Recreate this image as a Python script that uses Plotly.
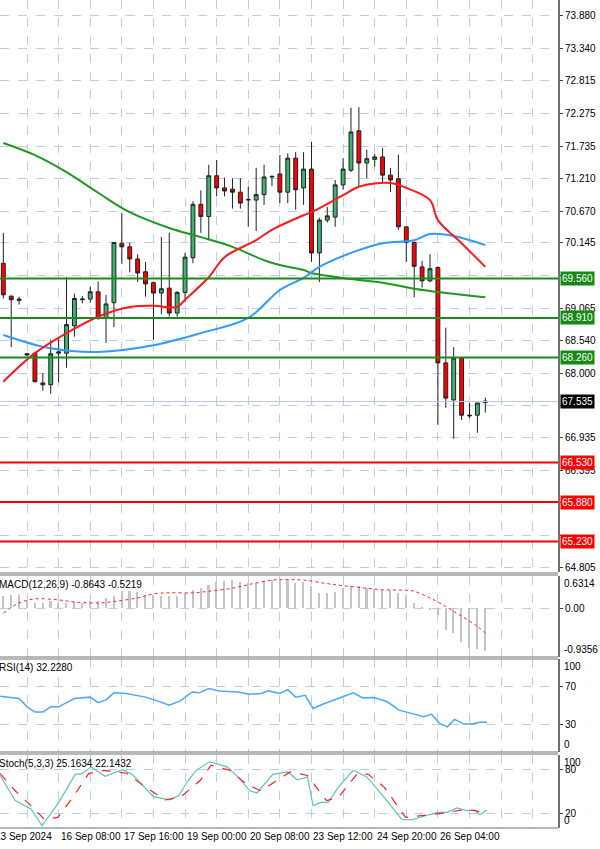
import plotly.graph_objects as go
from plotly.subplots import make_subplots

# --- price candles (4h bars, index 0..61) ---
opens = [69.81, 69.27, 69.22, 68.30, 68.33, 67.84, 67.81, 68.33, 68.33, 68.78, 69.21, 69.22, 69.34, 68.90,
         69.16, 70.14, 70.08, 69.88, 69.67, 69.49, 69.32, 69.40, 68.99, 69.33, 69.90, 70.78, 70.58, 71.25,
         71.05, 71.03, 70.98, 70.85, 70.85, 70.94, 71.23, 71.28, 70.98, 71.54, 71.05, 71.36, 69.98, 70.52,
         70.57, 71.10, 71.34, 71.99, 71.46, 71.52, 71.56, 71.26, 71.20, 70.41, 70.15, 69.75, 69.52, 69.74,
         68.17, 67.56, 68.25, 67.31, 67.31, 67.52]
highs = [70.31, 69.27, 69.26, 68.32, 68.35, 68.00, 68.55, 68.58, 69.58, 69.31, 69.27, 69.43, 69.51, 69.29,
         70.15, 70.64, 70.15, 69.96, 69.83, 69.51, 70.24, 70.31, 69.35, 69.98, 70.83, 71.01, 71.43, 71.51,
         71.22, 71.21, 71.21, 71.07, 71.38, 71.43, 71.25, 71.59, 71.62, 71.64, 71.64, 71.81, 70.56, 70.74,
         71.18, 71.54, 72.37, 72.38, 71.68, 71.61, 71.71, 71.38, 71.60, 70.41, 70.17, 69.85, 69.96, 69.76,
         68.75, 68.43, 68.27, 67.51, 67.51, 67.60]
lows = [69.23, 68.43, 69.13, 68.28, 67.85, 67.71, 67.66, 67.85, 68.09, 68.60, 69.15, 69.16, 68.88, 68.50,
        68.76, 69.80, 69.66, 69.50, 69.26, 68.55, 68.97, 68.93, 68.93, 69.17, 69.81, 70.31, 70.19, 70.91,
        70.91, 70.71, 70.71, 70.41, 70.34, 70.77, 71.08, 70.80, 70.80, 70.69, 70.77, 69.83, 69.50, 70.48,
        70.41, 71.02, 71.31, 71.07, 71.21, 71.40, 71.13, 70.98, 70.36, 69.83, 69.25, 69.41, 69.50, 67.15,
        67.43, 66.92, 67.23, 67.26, 67.02, 67.35]
closes = [69.29, 69.21, 69.20, 68.32, 67.86, 67.81, 68.32, 68.35, 68.80, 69.23, 69.22, 69.34, 68.90, 69.14,
          70.15, 70.08, 69.88, 69.65, 69.47, 69.32, 69.39, 68.99, 69.33, 69.91, 70.78, 70.58, 71.25, 71.05,
          71.00, 70.98, 70.80, 70.86, 70.94, 71.23, 71.24, 70.98, 71.54, 71.02, 71.36, 69.98, 70.52, 70.59,
          71.10, 71.36, 71.97, 71.46, 71.53, 71.56, 71.26, 71.18, 70.41, 70.15, 69.76, 69.52, 69.72, 68.17,
          67.59, 68.25, 67.31, 67.30, 67.51, 67.54]

# moving averages (bar index, price)
ma_fast_x = [0, 4, 8, 12, 16, 19, 22, 23, 26, 28, 32, 34, 38, 39, 43, 45, 49, 51, 54, 55, 58, 61]
ma_fast_y = [67.86, 68.33, 68.66, 68.93, 69.09, 69.11, 69.09, 69.21, 69.58, 69.91, 70.19, 70.36, 70.60,
             70.65, 70.93, 71.07, 71.13, 71.05, 70.85, 70.52, 70.14, 69.75]
ma_mid_x = [0, 6, 12, 19, 25, 31, 35, 38, 40, 44, 48, 52, 54, 57, 61]
ma_mid_y = [68.63, 68.41, 68.35, 68.46, 68.66, 68.91, 69.37, 69.57, 69.75, 69.98, 70.14, 70.19, 70.29,
            70.26, 70.11]
ma_slow_x = [0, 4, 8, 12, 16, 21, 25, 29, 33, 35, 38, 39, 44, 48, 52, 56, 61]
ma_slow_y = [71.79, 71.59, 71.31, 70.97, 70.65, 70.39, 70.24, 70.08, 69.86, 69.78, 69.70, 69.65, 69.55,
             69.49, 69.39, 69.32, 69.25]

support_levels = [69.56, 68.91, 68.26]
resist_levels = [66.53, 65.88, 65.23]
last_price = 67.535
price_ticks = [73.880, 73.340, 72.815, 72.275, 71.735, 71.210, 70.670, 70.145, 69.605, 69.065, 68.540,
               68.000, 67.475, 66.935, 66.395, 65.865, 65.335, 64.805]
price_tick_text = ["73.880", "73.340", "72.815", "72.275", "71.735", "71.210", "70.670", "70.145", "",
                   "69.065", "68.540", "68.000", "", "66.935", "66.395", "", "", "64.805"]

# MACD histogram per bar and signal line
macd_hist = [0.23, 0.26, 0.26, 0.13, 0.10, 0.10, 0.13, 0.10, 0.10, 0.11, 0.10, 0.13, 0.13, 0.20, 0.23,
             0.33, 0.33, 0.31, 0.26, 0.26, 0.23, 0.23, 0.23, 0.30, 0.36, 0.39, 0.46, 0.52, 0.54, 0.56,
             0.52, 0.50, 0.50, 0.54, 0.56, 0.56, 0.56, 0.49, 0.52, 0.43, 0.30, 0.30, 0.31, 0.39, 0.43,
             0.43, 0.39, 0.37, 0.36, 0.35, 0.30, 0.23, 0.10, 0.02, -0.03, -0.13, -0.43, -0.49, -0.66,
             -0.79, -0.80, -0.84]
macd_sig_x = [0, 2, 4, 7, 9, 12, 14, 17, 19, 21, 24, 26, 29, 31, 34, 36, 38, 41, 43, 46, 48, 51, 52, 54,
              56, 58, 60, 61]
macd_sig_y = [-0.10, 0.10, 0.18, 0.16, 0.12, 0.10, 0.13, 0.20, 0.28, 0.30, 0.30, 0.33, 0.39, 0.46, 0.55,
              0.56, 0.55, 0.48, 0.44, 0.39, 0.36, 0.35, 0.33, 0.20, 0.03, -0.16, -0.36, -0.49]

# RSI(14)
rsi_x = [-0.4, 2, 3, 4, 5, 6, 7, 9, 11, 12, 13, 14, 15.6, 18, 19.5, 21, 22.4, 23.9, 24.8, 26, 27.3, 29.7,
         31.1, 32.6, 33.6, 35, 36, 37, 38.2, 39.2, 40.4, 42.3, 44.3, 45.5, 46.9, 48.6, 50.1, 52, 53.2,
         54.2, 55.2, 56.2, 57.1, 58.3, 59.3, 60.3, 61.2]
rsi_y = [60, 57.5, 48.6, 43, 43, 48.6, 48.6, 57.5, 59, 53, 56, 63.6, 62.9, 59, 55, 50.4, 55, 64.6, 63.6,
         68.2, 65.7, 64.6, 62, 62.9, 65.7, 62.9, 67, 59, 61, 46.8, 51.4, 57.5, 63.6, 58.2, 58.6, 54, 45,
         40.7, 38, 40.7, 30.7, 27, 35, 30, 30, 32, 32]

# Stochastic(5,3,3)
stk_x = [-0.4, 1.5, 3.5, 4.9, 6.9, 9.1, 10, 11.1, 12.9, 15.1, 16.3, 19, 21, 22.2, 23.4, 24.4, 26.1, 28.3,
         29.7, 31.2, 32.1, 34.1, 36, 37.2, 38.5, 39.2, 40.2, 41.1, 42.4, 44.3, 46, 48.2, 50.4, 51.6, 53,
         55, 56.2, 57.4, 58.6, 59.6, 60.3, 61.2]
stk_y = [72, 37.5, 26, 3, 33, 73.5, 74.5, 83.7, 70.8, 80, 73.5, 43, 38.5, 44.5, 65, 79, 90.6, 83.7, 70,
         51, 48, 73.5, 76.8, 66, 70, 30.6, 35, 35, 56, 79, 70, 42, 12, 11, 15.4, 21.4, 21.4, 27.4, 23.7,
         24.6, 18, 24.6]
std_x = [-0.4, 1.5, 3.5, 5.2, 6.9, 8.8, 10.8, 12.7, 15.6, 18, 20.5, 22.4, 24.9, 26.3, 28.7, 30.7, 32.6,
         34.6, 36.3, 38.5, 40.9, 42.4, 44.8, 46.2, 48.2, 50.9, 53, 55.5, 57.9, 59.8, 60.6, 61.2]
std_y = [74.5, 51, 30.6, 12, 14.5, 42, 74.5, 79, 75, 56, 38.5, 42, 65, 86, 79, 60.6, 51, 65, 76.8, 72,
         37.5, 42, 74.5, 73.5, 56, 14.5, 16.8, 20, 24.6, 23.7, 20, 23.7]

date_pos = [7, 15, 23, 31, 39, 47, 55]
date_labels = ["16 Sep 08:00", "17 Sep 16:00", "19 Sep 00:00", "20 Sep 08:00",
               "23 Sep 12:00", "24 Sep 20:00", "26 Sep 04:00"]
first_label = "13 Sep 2024"
grid_pos = list(range(-1, 71, 4))

H = 828.0
def band(top, bottom):
    return [1 - bottom / H, 1 - top / H]

fig = make_subplots(rows=4, cols=1, shared_xaxes=True)
FONT = "Liberation Sans"
GRID = "#bccde4"

fig.add_trace(go.Candlestick(x=list(range(len(opens))), open=opens, high=highs, low=lows, close=closes,
                             increasing=dict(fillcolor="#3cb371", line=dict(color="#202020", width=1)),
                             decreasing=dict(fillcolor="#ff0000", line=dict(color="#202020", width=1)),
                             whiskerwidth=0, showlegend=False), row=1, col=1)
fig.add_trace(go.Scatter(x=ma_slow_x, y=ma_slow_y, mode="lines", line=dict(color="#1e9a1e", width=2),
                         line_shape="spline", showlegend=False), row=1, col=1)
fig.add_trace(go.Scatter(x=ma_mid_x, y=ma_mid_y, mode="lines", line=dict(color="#2f9bff", width=2),
                         line_shape="spline", showlegend=False), row=1, col=1)
fig.add_trace(go.Scatter(x=ma_fast_x, y=ma_fast_y, mode="lines", line=dict(color="#ff1a1a", width=2),
                         line_shape="spline", showlegend=False), row=1, col=1)

fig.add_trace(go.Bar(x=list(range(len(macd_hist))), y=macd_hist, width=0.2, marker_color="#c4c4c4",
                     marker_line_width=0, showlegend=False), row=2, col=1)
fig.add_trace(go.Scatter(x=macd_sig_x, y=macd_sig_y, mode="lines", line=dict(color="#ff2020", width=1, dash="dot"),
                         line_shape="spline", showlegend=False), row=2, col=1)

fig.add_trace(go.Scatter(x=rsi_x, y=rsi_y, mode="lines", line=dict(color="#4da6ff", width=1.5),
                         showlegend=False), row=3, col=1)

fig.add_trace(go.Scatter(x=stk_x, y=stk_y, mode="lines", line=dict(color="#5cc6b6", width=1.2),
                         showlegend=False), row=4, col=1)
fig.add_trace(go.Scatter(x=std_x, y=std_y, mode="lines", line=dict(color="#ff2020", width=1.2, dash="dash"),
                         showlegend=False), row=4, col=1)

LBL = dict(size=10, family=FONT, color="black")

# horizontal levels with right-side tags
def tag(price, color):
    fig.add_annotation(x=1, xref="paper", y=price, yref="y", text=f"{price:.3f}", showarrow=False,
                       xanchor="left", xshift=2, bgcolor=color, borderpad=1,
                       font=dict(color="white", size=10, family=FONT))

for lv in support_levels:
    fig.add_hline(y=lv, line=dict(color="#1a8c1a", width=2), row=1, col=1)
    tag(lv, "#168a16")
for lv in resist_levels:
    fig.add_hline(y=lv, line=dict(color="#ff0000", width=2), row=1, col=1)
    tag(lv, "#ff0000")
fig.add_hline(y=last_price, line=dict(color="#b8c8dc", width=1), row=1, col=1)
tag(last_price, "#000000")

# edge labels of the indicator panes, kept inside their pane like the terminal does
def edge_label(text, top_px, anchor):
    fig.add_annotation(x=1, xref="paper", y=1 - top_px / H, yref="paper", text=text, showarrow=False,
                       xanchor="left", yanchor=anchor, xshift=4, font=LBL)

edge_label("0.6314", 576, "top")
edge_label("-0.9356", 657, "bottom")
edge_label("100", 659, "top")
edge_label("0", 752, "bottom")
edge_label("100", 755, "top")
edge_label("0", 828, "bottom")

# pane captions
captions = [("MACD(12,26,9) -0.8643 -0.5219", 576), ("RSI(14) 32.2280", 659), ("Stoch(5,3,3) 25.1634 22.1432", 755)]
for txt, top in captions:
    fig.add_annotation(x=0, xref="paper", y=1 - (top + 1) / H, yref="paper", text=txt, showarrow=False,
                       xanchor="left", yanchor="top", xshift=-3, font=LBL)

for pos, lab in zip(date_pos, date_labels):
    fig.add_annotation(x=pos, xref="x4", y=0, yref="paper", text=lab, showarrow=False, xanchor="left",
                       yanchor="top", yshift=-1, font=LBL)
fig.add_annotation(x=0, xref="paper", y=0, yref="paper", text=first_label, showarrow=False, xanchor="left",
                   yanchor="top", yshift=-1, xshift=-7, font=LBL)

# pane separators
for yy in [573, 575, 657, 659, 752, 754, 828]:
    fig.add_shape(type="line", xref="paper", yref="paper", x0=0, x1=1, y0=1 - yy / H, y1=1 - yy / H,
                  line=dict(color="#707070", width=1))

xcommon = dict(range=[-0.42, 70.2], tickvals=grid_pos, showticklabels=False, showgrid=True, gridcolor=GRID,
               griddash="dash", gridwidth=1, zeroline=False, ticks="", automargin=False)
fig.update_xaxes(**xcommon)
fig.update_xaxes(rangeslider_visible=False, row=1, col=1)

ycommon = dict(side="right", showgrid=True, gridcolor=GRID, griddash="dash", zeroline=False, ticks="outside",
               ticklen=3, tickcolor="#404040", showline=True, linecolor="#707070", linewidth=2, automargin=False,
               tickfont=LBL)
fig.update_yaxes(**ycommon)
fig.update_layout(
    yaxis=dict(domain=band(0, 572), range=[64.728, 74.143], tickvals=price_ticks, ticktext=price_tick_text),
    yaxis2=dict(domain=band(576, 657), range=[-0.96, 0.63], tickvals=[0.0], ticktext=["0.00"]),
    yaxis3=dict(domain=band(659, 752), range=[0, 100], tickvals=[70, 30]),
    yaxis4=dict(domain=band(755, 828), range=[0, 100], tickvals=[80, 20]),
    width=600, height=849, margin=dict(l=0, r=42, t=0, b=21, autoexpand=False),
    plot_bgcolor="white", paper_bgcolor="white", bargap=0, showlegend=False,
)
fig.update_xaxes(domain=[0, 1])

# the page's default 8px body margin would shift the chart
fig.write_html("out.html", config={"displayModeBar": False},
               post_script="document.body.style.margin='0';")
